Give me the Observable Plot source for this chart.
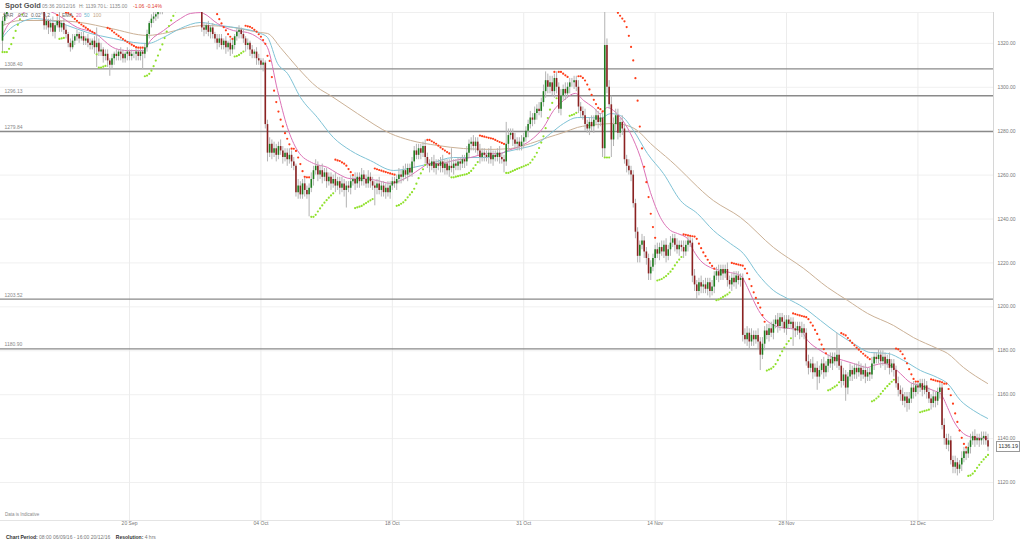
<!DOCTYPE html>
<html><head><meta charset="utf-8">
<script src="https://cdn.jsdelivr.net/npm/d3@7"></script>
<script src="https://cdn.jsdelivr.net/npm/@observablehq/plot@0.6"></script>
<style>
body{margin:0;background:#fff;font-family:"Liberation Sans",Arial,sans-serif;}
#wrap{position:relative;width:1024px;height:540px;overflow:hidden;background:#fff;}
#chart{position:absolute;left:0;top:0;}
.t{position:absolute;white-space:nowrap;line-height:1;}
.s{font-size:5px;color:#888;top:3.9px;}
.g{font-size:5px;color:#666;top:13px;}
</style></head><body>
<div id="wrap">
<div id="chart"></div>
<div class="t" style="left:5px;top:1.5px;font-size:7.5px;font-weight:bold;color:#555">Spot Gold</div>
<div class="t s" style="left:42px">05:36 20/12/16</div>
<div class="t s" style="left:79px">H: 1139.70</div>
<div class="t s" style="left:104px">L: 1135.00</div>
<div class="t s" style="left:133px;color:#e0382b">-1.06</div>
<div class="t s" style="left:146px;color:#e0382b">-0.14%</div>
<div class="t g" style="left:3px">SAR</div>
<div class="t g" style="left:18px">0.02</div>
<div class="t g" style="left:31px">0.02</div>
<div class="t g" style="left:43px">0.2</div>
<div class="t g" style="left:62px">EMA</div>
<div class="t g" style="left:76px;color:#d66aae">20</div>
<div class="t g" style="left:84px;color:#6bb8cf">50</div>
<div class="t g" style="left:93px;color:#c4a584">100</div>
<div class="t" style="left:5px;top:512.5px;font-size:4.5px;color:#888">Data is Indicative</div>
<div class="t" style="left:6px;top:534.5px;font-size:5px;color:#777"><b style="color:#333">Chart Period:</b> 08:00 06/09/16 - 16:00 20/12/16 &nbsp;&nbsp; <b style="color:#333">Resolution:</b> 4 hrs</div>
<div id="last" class="t" style="left:996px;font-size:5.5px;color:#333;border:1px solid #999;background:#fff;padding:2px 1.5px;"></div>
</div>
<script>
// ---- data (4-hour bars) ----
const firstOpen = 1321;
const close = [
1330,1333,1338,1342,1345,1347,1344,1346,1343,1345,
1344,1347,1349,1346,1343,1341,1342,1339,1335,1328,
1330,1327,1329,1325,1328,1330,1327,1329,1326,1324,
1320,1318,1321,1323,1324,1322,1323,1321,1322,1320,
1319,1321,1318,1320,1316,1317,1314,1315,1312,1310,
1313,1315,1314,1316,1315,1313,1315,1316,1314,1315,
1315,1316,1314,1316,1315,1318,1324,1329,1331,1332,
1333,1335,1336,1338,1337,1339,1340,1338,1341,1342,
1340,1342,1341,1343,1341,1340,1342,1341,1339,1340,
1338,1327,1326,1328,1325,1327,1324,1322,1320,1322,
1319,1321,1318,1320,1317,1319,1323,1325,1326,1324,
1322,1319,1320,1317,1315,1316,1313,1312,1310,1311,
1283,1270,1274,1270,1272,1269,1273,1271,1268,1270,
1267,1269,1266,1264,1252,1255,1251,1256,1253,1251,
1254,1258,1262,1264,1260,1262,1259,1261,1257,1259,
1256,1258,1255,1257,1254,1256,1253,1255,1254,1257,
1258,1256,1259,1257,1260,1258,1256,1259,1257,1255,
1254,1256,1253,1255,1252,1254,1252,1255,1257,1256,
1258,1260,1259,1262,1260,1263,1261,1266,1271,1269,
1272,1270,1273,1268,1265,1264,1266,1263,1265,1264,
1266,1263,1265,1262,1264,1263,1265,1264,1266,1265,
1267,1266,1270,1274,1275,1273,1275,1271,1268,1270,
1269,1268,1270,1267,1269,1268,1270,1268,1267,1266,
1274,1278,1279,1276,1274,1275,1273,1275,1277,1280,
1283,1286,1285,1288,1290,1289,1293,1298,1303,1300,
1302,1298,1304,1300,1290,1296,1299,1297,1300,1302,
1302,1303,1300,1291,1289,1287,1283,1281,1284,1282,
1285,1287,1284,1286,1272,1319,1300,1292,1276,1283,
1287,1279,1284,1281,1267,1264,1262,1260,1247,1234,
1223,1228,1230,1225,1222,1215,1218,1222,1226,1224,
1227,1225,1228,1223,1226,1229,1231,1228,1226,1228,
1227,1225,1228,1230,1229,1214,1210,1207,1211,1209,
1210,1208,1211,1207,1209,1214,1216,1214,1217,1215,
1217,1212,1210,1213,1211,1214,1212,1213,1187,1185,
1188,1184,1187,1185,1187,1184,1178,1183,1189,1187,
1190,1188,1192,1194,1191,1195,1193,1190,1194,1192,
1193,1190,1189,1191,1188,1190,1188,1175,1172,1174,
1170,1172,1168,1171,1174,1170,1173,1176,1174,1177,
1175,1178,1173,1166,1169,1163,1168,1171,1169,1172,
1170,1172,1169,1171,1168,1170,1169,1174,1177,1176,
1178,1175,1177,1174,1176,1172,1174,1171,1165,1162,
1160,1157,1159,1156,1158,1163,1161,1164,1163,1165,
1162,1164,1161,1158,1156,1159,1157,1161,1163,1146,
1140,1137,1139,1130,1127,1129,1126,1128,1131,1134,
1133,1136,1139,1141,1139,1140,1139,1140,1141,1139,
1136.19];
const upWick = [
2,2,3,2,3,2,2,3,2,2, 3,2,2,2,2,3,2,2,2,1, 2,1,2,3,1,2,4,1,2,2, 1,2,3,1,2,1,2,2,1,2,
2,1,2,7,2,3,1,2,2,1, 2,1,2,1,2,2,1,2,1,2, 1,2,1,2,1,2,2,1,2,3, 2,2,1,2,3,2,2,1,2,2,
2,1,2,2,1,2,2,1,2,2, 1,1,2,1,2,1,2,1,2,2, 2,1,2,1,2,3,1,2,2,1, 2,1,2,1,2,1,2,2,1,2,
1,2,3,2,3,2,2,3,2,2, 2,3,2,2,1,3,2,2,3,2, 2,3,2,3,2,2,3,2,2,2, 2,2,3,2,2,3,2,2,2,3,
2,3,2,2,3,2,2,3,2,2, 2,2,3,2,2,2,3,2,2,2, 2,3,2,2,3,2,2,2,2,3, 2,2,2,3,2,2,2,3,2,2,
2,3,2,2,3,8,2,2,2,2, 2,2,3,2,2,3,2,2,3,2, 2,2,2,3,2,2,2,3,2,2, 10,3,2,2,3,2,2,3,2,2,
2,3,2,3,2,3,2,3,4,3, 3,3,2,3,2,3,2,3,2,2, 2,2,2,3,2,2,3,2,2,3, 2,3,2,2,2,19,3,3,4,3,
3,3,2,3,2,2,3,2,2,2, 2,2,3,2,2,2,3,2,2,3, 2,3,2,3,2,3,2,2,3,2, 2,3,2,2,2,2,3,2,2,3,
2,3,2,2,3,2,2,3,2,2, 2,3,2,2,3,2,2,2,2,3, 3,2,3,2,2,3,2,3,2,3, 2,3,2,2,3,2,2,3,2,2,
2,2,3,2,2,3,2,2,3,2, 3,2,3,2,2,3,2,2,3,2, 2,10,3,2,3,2,2,3,2,2, 2,3,2,2,3,2,2,3,2,2,
3,2,3,2,2,3,2,2,2,3, 2,3,2,2,3,2,3,2,2,2, 2,3,2,2,2,3,2,2,2,2, 3,2,3,2,2,3,2,2,3,2,
2,2,3,2,3,2,2,3,2,2, 3];
const downWick = [
5,2,2,3,2,2,3,2,2,3, 2,2,3,2,2,2,3,2,2,2, 2,3,2,2,3,1,2,2,2,2, 2,2,1,2,2,2,1,2,2,2,
2,2,3,9,2,2,3,2,3,5, 2,3,2,2,3,2,2,3,2,2, 2,3,2,2,7,2,2,2,2,2, 2,2,2,3,2,2,2,3,2,2,
3,2,2,2,3,2,2,2,3,2, 2,2,3,2,2,3,2,2,3,2, 2,2,3,2,3,2,2,2,3,2, 2,3,2,3,2,2,3,2,2,3,
2,4,2,3,2,3,2,2,3,2, 3,2,3,2,2,3,2,2,3,2, 10,2,3,2,3,2,3,2,3,2, 3,2,3,2,3,2,3,8,2,3,
2,3,2,3,2,3,2,2,3,2, 8,3,2,3,2,3,2,3,2,2, 3,2,3,2,2,3,2,2,3,2, 2,3,2,3,2,3,2,2,3,2,
3,2,3,2,3,2,3,2,2,3, 2,3,2,2,3,2,3,2,3,2, 3,2,3,2,3,2,2,3,2,5, 2,3,2,3,2,3,2,2,3,2,
3,2,3,2,3,2,3,2,3,3, 3,2,3,3,2,3,2,3,2,3, 2,3,2,3,3,2,3,2,3,2, 3,2,3,2,4,4,3,2,8,3,
3,3,2,3,2,3,2,3,2,3, 3,3,2,3,3,3,3,2,3,2, 3,2,3,3,2,3,2,3,2,3, 2,3,2,3,2,3,3,4,2,3,
3,2,3,3,2,3,2,3,2,3, 2,3,2,3,2,3,2,3,3,2, 3,3,2,3,2,3,7,2,3,2, 3,2,3,2,3,2,3,2,3,2,
2,8,3,2,3,2,3,2,3,2, 3,2,6,3,2,3,2,3,2,3, 2,3,2,3,2,6,3,2,3,2, 3,2,3,2,3,2,3,2,3,2,
2,3,2,3,2,3,2,3,2,3, 3,2,3,4,3,2,3,2,3,2, 3,2,3,2,3,2,3,2,3,2, 3,2,3,2,3,3,3,2,3,2,
3,2,3,2,3,2,3,2,3,2, 2];
const tickBars = [58,118,178,238,298,358,418];
const tickLabels = ["20 Sep","04 Oct","18 Oct","31 Oct","14 Nov","28 Nov","12 Dec"];
const priceTicks = [1120,1140,1160,1180,1200,1220,1240,1260,1280,1300,1320];
const levels = [1308.40,1296.13,1279.84,1203.52,1180.90];
const ema20 = [[0,1323.6],[2.3,1328.1],[5.9,1331.3],[9.1,1333.6],[12.8,1335.4],[17.4,1335.9],[21.9,1334.5],[25.6,1332.7],[34.2,1327.2],[41.6,1324.9],[51.6,1317.6],[57.1,1316.7],[64.4,1316.7],[67.6,1321.3],[73.5,1325.8],[81.3,1331.3],[85.8,1333.6],[90.4,1334.0],[91.8,1333.6],[98.2,1329.0],[105.5,1325.8],[111.9,1324.9],[116.4,1322.7],[121.0,1318.1],[125.6,1298.5],[130.1,1281.7],[134.7,1271.2],[142.0,1265.3],[148.4,1263.5],[153.0,1260.7],[158.9,1258.4],[164.8,1258.4],[171.2,1257.5],[177.2,1256.2],[181.7,1257.5],[186.3,1259.8],[190.9,1263.0],[195.4,1265.3],[200.0,1265.3],[205.9,1266.6],[213.7,1268.0],[221.5,1269.8],[227.4,1269.8],[230.6,1271.2],[235.1,1272.6],[241.1,1275.8],[247.0,1281.7],[251.6,1289.4],[256.2,1294.0],[261.6,1297.2],[265.3,1294.0],[269.8,1290.8],[273.0,1288.0],[276.2,1290.8],[279.0,1289.4],[282.2,1286.2],[286.7,1279.0],[291.3,1268.0],[295.9,1252.0],[300.4,1240.7],[305.0,1234.8],[308.2,1233.4],[312.8,1231.1],[315.5,1225.7],[318.7,1221.1],[323.3,1217.9],[327.8,1216.6],[332.4,1215.6],[337.0,1214.3],[340.2,1208.8],[342.9,1202.9],[346.1,1197.0],[350.7,1192.4],[355.2,1190.6],[359.8,1190.1],[364.4,1189.2],[367.6,1184.7],[373.5,1180.1],[379.5,1176.9],[384.0,1175.6],[388.6,1174.2],[395.0,1172.4],[397.7,1173.3],[402.3,1174.2],[406.8,1172.4],[410.0,1169.6],[414.6,1165.5],[419.2,1164.2],[425.1,1161.9],[428.3,1160.5],[431.5,1154.2],[434.2,1148.2],[438.8,1142.3],[443.4,1140.5],[449.8,1140.1]];
const ema50 = [[0,1322.7],[3.7,1326.8],[8.2,1329.5],[14.2,1331.3],[21.9,1330.4],[29.7,1328.1],[38.8,1324.9],[50.7,1322.2],[59.8,1320.4],[66.2,1319.9],[73.5,1322.7],[81.3,1326.8],[90.4,1329.5],[99.5,1328.1],[108.7,1326.8],[117.8,1324.5],[121.0,1322.7],[125.6,1310.8],[130.1,1306.3],[136.1,1295.3],[143.8,1286.2],[151.1,1277.1],[158.9,1271.2],[168.0,1266.6],[178.6,1262.1],[187.7,1263.5],[195.4,1265.3],[205.9,1268.0],[221.5,1268.0],[228.8,1270.3],[236.5,1272.1],[244.3,1274.4],[250.2,1278.9],[256.2,1283.5],[262.5,1286.2],[268.5,1286.2],[273.0,1285.8],[277.6,1288.0],[282.2,1287.1],[288.1,1280.3],[294.5,1269.8],[301.8,1260.7],[309.6,1248.4],[317.3,1242.5],[324.6,1234.8],[332.4,1228.8],[338.3,1224.3],[344.7,1215.2],[352.0,1207.5],[358.4,1203.8],[365.8,1199.7],[373.5,1193.8],[381.3,1187.9],[388.6,1183.3],[396.3,1179.2],[404.1,1178.8],[411.4,1175.6],[419.2,1171.0],[426.9,1167.8],[431.5,1165.1],[437.4,1157.4],[443.4,1152.8],[449.8,1149.2]];
const ema100 = [[0,1328.1],[8.2,1330.4],[21.9,1330.4],[35.6,1329.5],[49.3,1326.8],[66.2,1323.6],[75.4,1324.9],[84.5,1327.2],[91.8,1328.1],[105.5,1327.2],[117.8,1324.9],[121.0,1324.5],[126.9,1318.1],[134.7,1309.0],[143.8,1299.9],[149.8,1296.2],[162.1,1288.0],[177.2,1278.9],[186.3,1275.8],[198.6,1273.5],[210.5,1272.1],[222.8,1271.7],[232.0,1272.1],[241.1,1274.4],[248.9,1277.1],[256.2,1279.4],[262.5,1281.7],[271.7,1283.0],[279.0,1283.5],[283.5,1283.0],[289.9,1280.3],[295.9,1274.4],[305.0,1266.6],[324.6,1248.4],[337.0,1240.7],[352.1,1227.0],[365.8,1217.5],[376.8,1208.8],[385.9,1202.9],[395.0,1197.0],[406.9,1191.5],[416.0,1186.0],[426.9,1181.0],[431.5,1178.8],[438.8,1172.4],[449.8,1165.1]];
const sarStart = 0.02, sarStep = 0.02, sarMax = 0.2;

try {
const n = Math.min(close.length, upWick.length, downWick.length);
const bars = d3.range(n).map(i => {
  const open = i ? close[i-1] : firstOpen, c = close[i];
  return {i, open, close: c, high: Math.max(open, c) + upWick[i], low: Math.min(open, c) - downWick[i], up: c >= open};
});
// Parabolic SAR (0.02, 0.02, 0.2) from the bars
const sar = [];
{
  let up = true, af = sarStart, ep = bars[0].high, s = bars[0].low;
  sar.push({i: 0, v: s, up});
  for (let k = 1; k < n; k++) {
    const b = bars[k];
    let nx = s + af * (ep - s);
    if (up) {
      nx = Math.min(nx, bars[k-1].low, bars[Math.max(0,k-2)].low);
      if (b.low < nx) { up = false; nx = ep; ep = b.low; af = sarStart; }
      else if (b.high > ep) { ep = b.high; af = Math.min(af + sarStep, sarMax); }
    } else {
      nx = Math.max(nx, bars[k-1].high, bars[Math.max(0,k-2)].high);
      if (b.high > nx) { up = true; nx = ep; ep = b.high; af = sarStart; }
      else if (b.low < ep) { ep = b.low; af = Math.min(af + sarStep, sarMax); }
    }
    s = nx;
    sar.push({i: k, v: s, up});
  }
}
const x0 = -0.913, x1 = 452.5, yLo = 1102.71, yHi = 1334.04;
const chart = Plot.plot({
  width: 1024, height: 530,
  marginTop: 12, marginBottom: 10, marginLeft: 0, marginRight: 31,
  x: {type: "linear", domain: [x0, x1], axis: null, label: null},
  y: {domain: [yLo, yHi], axis: null, label: null},
  color: {type: "identity"},
  style: {background: "#fff", fontFamily: "Liberation Sans, Arial, sans-serif"},
  marks: [
    Plot.ruleY(priceTicks, {stroke: "#f0f0f0"}),
    Plot.ruleX(tickBars, {stroke: "#ececec"}),
    Plot.ruleY([yLo], {stroke: "#e4e4e4"}),
    Plot.ruleY([yHi], {stroke: "#efefef"}),
    Plot.ruleX([x1], {stroke: "#d6d6d6"}),
    Plot.ruleY(levels, {stroke: "#8a8a8a", strokeWidth: 1.3}),
    Plot.text(levels, {x: x0, y: d => d, text: d => d.toFixed(2), textAnchor: "start", dx: 4, dy: -4, fontSize: 5, fill: "#888"}),
    Plot.line(ema100, {x: d => d[0], y: d => d[1], stroke: "#cbb196", strokeWidth: 1, curve: "monotone-x", clip: true}),
    Plot.line(ema50, {x: d => d[0], y: d => d[1], stroke: "#7fc3d6", strokeWidth: 1, curve: "monotone-x", clip: true}),
    Plot.line(ema20, {x: d => d[0], y: d => d[1], stroke: "#dc72b6", strokeWidth: 1, curve: "monotone-x", clip: true}),
    Plot.ruleX(bars, {x: "i", y1: "low", y2: "high", stroke: "#b3b3b3", strokeWidth: 1, clip: true}),
    Plot.ruleX(bars, {x: "i", y1: "open", y2: "close", stroke: d => d.up ? "#1f7d1f" : "#8c2222", strokeWidth: 1.6, clip: true}),
    Plot.dot(sar, {x: "i", y: "v", r: 1.1, fill: d => d.up ? "#8fe02b" : "#ff3c18", stroke: null, clip: true}),
    Plot.axisX(tickBars, {tickSize: 0, tickPadding: 0.5, fontSize: 5, color: "#777", label: null, tickFormat: d => tickLabels[tickBars.indexOf(d)]}),
    Plot.axisY(priceTicks, {anchor: "right", tickSize: 0, tickPadding: 4, fontSize: 5, color: "#777", label: null, tickFormat: d => d.toFixed(2)})
  ]
});
document.getElementById("chart").appendChild(chart);
const last = close[n-1];
const ly = chart.scale("y").apply(last);
const el = document.getElementById("last");
el.textContent = last.toFixed(2);
el.style.top = (ly - 5.5) + "px";
} catch (e) {
  document.body.insertAdjacentHTML("beforeend", "<pre>" + e + "</pre>");
}
</script>
</body></html>
